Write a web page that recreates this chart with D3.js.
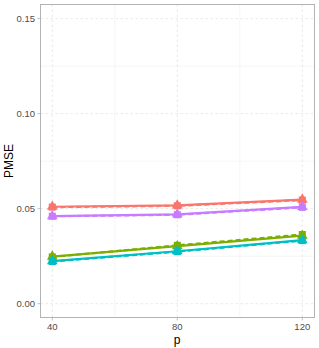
<!DOCTYPE html>
<html><head><meta charset="utf-8">
<script src="https://cdn.jsdelivr.net/npm/d3@7"></script>
<style>body{margin:0;background:#fff}svg{display:block}</style>
</head><body>
<script>
const pValues = [40, 80, 120];
const colors = ["#F8766D", "#C77CFF", "#7CAE00", "#00BFC4"];
// solid-line series (triangles)
const solidRed    = [0.0510, 0.0517, 0.0548];
const solidPurple = [0.0461, 0.0470, 0.0509];
const solidGreen  = [0.0248, 0.0303, 0.0358];
const solidCyan   = [0.0224, 0.0276, 0.0334];
// dashed-line series (squares)
const dashedRed    = [0.0508, 0.0515, 0.0545];
const dashedPurple = [0.0460, 0.0468, 0.0507];
const dashedGreen  = [0.0246, 0.0307, 0.0364];
const dashedCyan   = [0.0222, 0.0274, 0.0332];
const yTicks = [0.00, 0.05, 0.10, 0.15];
const yMinor = [0.025, 0.075, 0.125];
const xTicks = [40, 80, 120];
const xMinor = [60, 100];

const W = 319, H = 348;
const panel = {l: 40.5, r: 314.5, t: 4.5, b: 317.5};
const x = d3.scaleLinear().domain([40, 120]).range([52.3, 302.3]);
const y = d3.scaleLinear().domain([0, 0.15]).range([303.7, 18.6]);

const svg = d3.select("body").append("svg").attr("width", W).attr("height", H);
svg.append("rect").attr("width", W).attr("height", H).attr("fill", "#fff");

const g = svg.append("g");
// minor grid
g.selectAll(".ym").data(yMinor).join("line")
  .attr("x1", panel.l).attr("x2", panel.r).attr("y1", d => y(d)).attr("y2", d => y(d))
  .attr("stroke", "#EFEFEF").attr("stroke-width", 0.6);
g.selectAll(".xm").data(xMinor).join("line")
  .attr("y1", panel.t).attr("y2", panel.b).attr("x1", d => x(d)).attr("x2", d => x(d))
  .attr("stroke", "#EFEFEF").attr("stroke-width", 0.6);
// major grid dashed
g.selectAll(".yM").data(yTicks).join("line")
  .attr("x1", panel.l).attr("x2", panel.r).attr("y1", d => y(d)).attr("y2", d => y(d))
  .attr("stroke", "#E3E3E3").attr("stroke-width", 0.8).attr("stroke-dasharray", "2.5,2.5");
g.selectAll(".xM").data(xTicks).join("line")
  .attr("y1", panel.t).attr("y2", panel.b).attr("x1", d => x(d)).attr("x2", d => x(d))
  .attr("stroke", "#E3E3E3").attr("stroke-width", 0.8).attr("stroke-dasharray", "2.5,2.5");

const solid = [solidRed, solidPurple, solidGreen, solidCyan];
const dashed = [dashedRed, dashedPurple, dashedGreen, dashedCyan];
const line = d3.line().x((d, i) => x(pValues[i])).y(d => y(d));

function drawSeries(vals, col, dash, shape) {
  g.append("path").attr("d", line(vals)).attr("fill", "none")
    .attr("stroke", col).attr("stroke-width", 2.2)
    .attr("stroke-dasharray", dash ? "5,3" : null);
  g.selectAll(null).data(vals).join("path")
    .attr("transform", (d, i) => `translate(${x(pValues[i])},${y(d)})`)
    .attr("d", d3.symbol().type(shape).size(shape === d3.symbolTriangle ? 50 : 50))
    .attr("fill", col);
}
for (let k = 0; k < 4; k++) {
  drawSeries(dashed[k], colors[k], true, d3.symbolSquare);
  drawSeries(solid[k], colors[k], false, d3.symbolTriangle);
}

// panel border
svg.append("rect").attr("x", panel.l).attr("y", panel.t)
  .attr("width", panel.r - panel.l).attr("height", panel.b - panel.t)
  .attr("fill", "none").attr("stroke", "#B3B3B3").attr("stroke-width", 1);

// ticks and labels
svg.selectAll(".yt").data(yTicks).join("line")
  .attr("x1", panel.l - 3).attr("x2", panel.l).attr("y1", d => y(d)).attr("y2", d => y(d))
  .attr("stroke", "#B3B3B3").attr("stroke-width", 0.8);
svg.selectAll(".ytl").data(yTicks).join("text")
  .attr("x", 35).attr("y", d => y(d)).attr("dy", "0.35em").attr("text-anchor", "end")
  .attr("font-family", "Liberation Sans, Arial, sans-serif").attr("font-size", 9.5)
  .attr("fill", "#4D4D4D").text(d => d.toFixed(2));
svg.selectAll(".xt").data(xTicks).join("line")
  .attr("y1", panel.b).attr("y2", panel.b + 3).attr("x1", d => x(d)).attr("x2", d => x(d))
  .attr("stroke", "#B3B3B3").attr("stroke-width", 0.8);
svg.selectAll(".xtl").data(xTicks).join("text")
  .attr("x", d => x(d)).attr("y", 329.5).attr("text-anchor", "middle")
  .attr("font-family", "Liberation Sans, Arial, sans-serif").attr("font-size", 9.5)
  .attr("fill", "#4D4D4D").text(d => d);

svg.append("text").attr("x", 177).attr("y", 344).attr("text-anchor", "middle")
  .attr("font-family", "Liberation Sans, Arial, sans-serif").attr("font-size", 12)
  .attr("fill", "#000").text("p");
svg.append("text").attr("transform", "translate(13,161) rotate(-90)").attr("text-anchor", "middle")
  .attr("font-family", "Liberation Sans, Arial, sans-serif").attr("font-size", 12)
  .attr("fill", "#000").text("PMSE");
</script>
</body></html>
